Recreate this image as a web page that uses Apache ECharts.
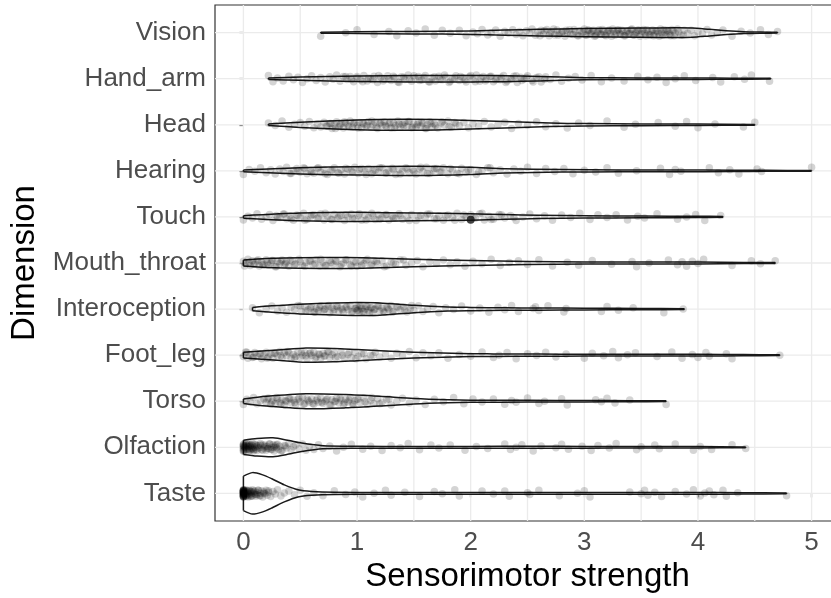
<!DOCTYPE html>
<html><head><meta charset="utf-8">
<script src="https://cdn.jsdelivr.net/npm/echarts@6/dist/echarts.min.js"></script>
<style>html,body{margin:0;padding:0;background:#fff}#c{width:831px;height:598px}</style>
</head><body><div id="c"></div>
<script>
// Categories bottom (index 0) to top
const categories = ['Taste','Olfaction','Torso','Foot_leg','Interoception','Mouth_throat','Touch','Hearing','Head','Hand_arm','Vision'];
const xTicks = [0,1,2,3,4,5];
const xMinorGrid = [0.5,1.5,2.5,3.5,4.5];

// vertical jitter offsets (category units)
const jitter = [0.05,-0.065,0.015,-0.025,0.07,-0.05,0.0,0.055,-0.08,0.03,-0.01,0.065,-0.04,0.025,-0.07,0.04,-0.015,0.08,-0.055,0.01,0.05,-0.03,0.07,-0.065,0.015,-0.05,0.055,-0.025,0.03,-0.08,0.0,0.065,-0.04,0.025,-0.07,0.04,-0.01,0.08,-0.055,0.05,-0.015];

// Sensorimotor strength of individual words, per dimension
const visionVals = [0.68,0.9,1.0,1.15,1.28,1.35,1.45,1.52,1.6,1.68,1.75,1.82,1.9,1.96,2.02,2.06,2.1,2.15,2.18,2.22,2.26,2.3,2.33,2.37,2.4,2.43,2.46,2.49,2.52,2.54,2.57,2.59,2.62,2.64,2.67,2.69,2.71,2.74,2.76,2.78,2.81,2.83,2.85,2.87,2.9,2.92,2.94,2.96,2.98,3.0,3.02,3.04,3.06,3.08,3.1,3.12,3.14,3.16,3.18,3.2,3.22,3.24,3.26,3.28,3.3,3.32,3.34,3.36,3.38,3.4,3.42,3.44,3.46,3.48,3.5,3.52,3.54,3.56,3.58,3.6,3.62,3.64,3.66,3.68,3.7,3.72,3.74,3.76,3.78,3.8,3.82,3.85,3.88,3.91,3.94,3.97,4.0,4.04,4.08,4.12,4.17,4.22,4.3,4.38,4.46,4.55,4.62,4.7];
const visionMore = [2.61,2.65,2.7,2.73,2.77,2.8,2.84,2.88,2.91,2.95,2.99,3.01,3.03,3.05,3.07,3.09,3.11,3.13,3.15,3.17,3.19,3.21,3.23,3.25,3.27,3.29,3.31,3.33,3.35,3.37,3.39,3.41,3.43,3.45,3.47,3.49,3.51,3.53,3.55,3.57,3.59,3.61,3.63,3.65,3.67,3.69,3.71,3.73,3.75,3.77,3.79,3.83,3.87];
const handArmVals = [0.22,0.26,0.3,0.35,0.4,0.44,0.48,0.52,0.56,0.6,0.64,0.68,0.72,0.76,0.79,0.82,0.85,0.88,0.91,0.94,0.97,1.0,1.03,1.06,1.09,1.12,1.15,1.18,1.21,1.24,1.27,1.3,1.33,1.36,1.39,1.42,1.45,1.48,1.51,1.54,1.57,1.6,1.63,1.66,1.69,1.72,1.75,1.78,1.81,1.84,1.87,1.9,1.93,1.96,1.99,2.02,2.05,2.08,2.11,2.14,2.17,2.2,2.23,2.26,2.29,2.32,2.35,2.38,2.41,2.44,2.47,2.5,2.54,2.58,2.62,2.66,2.7,2.75,2.8,2.86,2.92,2.98,3.06,3.15,3.24,3.35,3.47,3.56,3.64,3.72,3.8,3.88,3.98,4.13,4.2,4.32,4.41,4.47,4.63];
const handArmMore = [0.9,0.95,1.0,1.05,1.1,1.14,1.19,1.23,1.28,1.32,1.37,1.41,1.46,1.5,1.55,1.59,1.64,1.68,1.73,1.77,1.82,1.86,1.91,1.95,2.0,2.04,2.09,2.13,2.18,2.22,2.27,2.31,2.36,2.4,2.45,2.49,2.55,2.6,2.65];
const headVals = [0.22,0.28,0.34,0.4,0.45,0.5,0.54,0.58,0.62,0.65,0.68,0.71,0.74,0.76,0.78,0.8,0.82,0.84,0.86,0.88,0.9,0.92,0.94,0.96,0.98,1.0,1.02,1.04,1.06,1.08,1.1,1.12,1.14,1.16,1.18,1.2,1.22,1.24,1.26,1.28,1.3,1.32,1.34,1.36,1.38,1.4,1.42,1.44,1.46,1.48,1.5,1.52,1.54,1.56,1.58,1.6,1.62,1.64,1.66,1.68,1.71,1.74,1.77,1.8,1.83,1.86,1.9,1.94,1.98,2.02,2.07,2.12,2.18,2.24,2.3,2.36,2.42,2.5,2.58,2.66,2.75,2.85,2.95,3.05,3.2,3.35,3.45,3.65,3.8,3.9,4.0,4.15,4.4,4.5];
const headMore = [0.73,0.77,0.81,0.85,0.89,0.93,0.97,1.01,1.05,1.09,1.13,1.17,1.21,1.25,1.29,1.33,1.37,1.41,1.45,1.49,1.53,1.57,1.61,1.65,1.69,1.75,1.81,1.87];
const hearingVals = [0.0,0.05,0.1,0.15,0.2,0.24,0.28,0.32,0.35,0.38,0.41,0.44,0.47,0.5,0.53,0.56,0.59,0.62,0.65,0.68,0.71,0.74,0.77,0.8,0.83,0.86,0.89,0.92,0.95,0.98,1.01,1.04,1.07,1.1,1.13,1.16,1.19,1.22,1.25,1.28,1.31,1.34,1.37,1.4,1.43,1.46,1.49,1.52,1.55,1.58,1.61,1.64,1.67,1.7,1.73,1.76,1.8,1.84,1.88,1.92,1.96,2.0,2.05,2.1,2.15,2.2,2.26,2.32,2.38,2.44,2.5,2.58,2.66,2.74,2.82,2.9,3.0,3.1,3.2,3.3,3.46,3.67,3.75,3.8,3.85,4.1,4.18,4.28,4.36,4.52,4.56,5.0];
const hearingMore = [0.42,0.48,0.54,0.6,0.66,0.72,0.78,0.84,0.9,0.96,1.02,1.08,1.14,1.2,1.26,1.32,1.38,1.44,1.5,1.56,1.62,1.68,1.74,1.82,1.9,1.98,2.07,2.17];
const touchVals = [0.0,0.04,0.08,0.12,0.16,0.2,0.23,0.26,0.29,0.32,0.35,0.38,0.41,0.44,0.47,0.5,0.53,0.56,0.59,0.62,0.65,0.68,0.71,0.74,0.77,0.8,0.83,0.86,0.89,0.92,0.95,0.98,1.01,1.04,1.07,1.1,1.13,1.16,1.19,1.22,1.25,1.28,1.31,1.34,1.37,1.4,1.44,1.48,1.52,1.56,1.6,1.64,1.68,1.72,1.76,1.8,1.84,1.88,1.92,1.96,2.0,2.04,2.08,2.12,2.16,2.2,2.25,2.3,2.35,2.4,2.46,2.52,2.58,2.65,2.72,2.8,2.88,2.96,3.05,3.12,3.2,3.28,3.38,3.47,3.53,3.64,3.82,3.9,3.98,4.06,4.2];
const touchMore = [0.3,0.36,0.42,0.48,0.54,0.6,0.66,0.72,0.78,0.84,0.9,0.96,1.02,1.08,1.14,1.2,1.26,1.32,1.38,1.46,1.54,1.62,1.7,1.78,1.86,1.94,2.02,2.1,2.18,2.27,2.38];
const mouthThroatVals = [0.0,0.02,0.04,0.06,0.08,0.1,0.12,0.14,0.16,0.18,0.2,0.22,0.24,0.26,0.28,0.3,0.32,0.34,0.36,0.38,0.4,0.43,0.46,0.49,0.52,0.55,0.58,0.61,0.64,0.67,0.7,0.73,0.76,0.79,0.82,0.85,0.88,0.91,0.94,0.97,1.0,1.03,1.06,1.09,1.12,1.15,1.18,1.22,1.26,1.3,1.34,1.38,1.43,1.48,1.53,1.58,1.64,1.7,1.76,1.82,1.88,1.95,2.02,2.1,2.18,2.26,2.34,2.42,2.5,2.6,2.72,2.85,2.95,3.07,3.24,3.42,3.46,3.57,3.74,3.82,3.86,3.9,3.95,4.0,4.05,4.3,4.47,4.55,4.68];
const mouthThroatMore = [0.01,0.05,0.09,0.13,0.17,0.21,0.25,0.29,0.33,0.37,0.41,0.45,0.5,0.54,0.59,0.63,0.68,0.72,0.77,0.81,0.86,0.9,0.95,0.99,1.04,1.08,1.13,1.17,1.24,1.32,1.41];
const interoceptionVals = [0.08,0.14,0.2,0.25,0.3,0.34,0.38,0.42,0.45,0.48,0.51,0.54,0.57,0.6,0.62,0.64,0.66,0.68,0.7,0.72,0.74,0.76,0.78,0.8,0.82,0.84,0.86,0.88,0.9,0.92,0.94,0.96,0.98,1.0,1.0,1.02,1.02,1.04,1.06,1.08,1.1,1.12,1.14,1.16,1.18,1.2,1.22,1.24,1.26,1.28,1.3,1.32,1.35,1.38,1.41,1.44,1.47,1.5,1.54,1.58,1.62,1.67,1.72,1.78,1.85,1.92,2.0,2.08,2.16,2.24,2.3,2.36,2.42,2.55,2.57,2.6,2.68,2.82,2.84,3.15,3.2,3.3,3.43,3.7,3.87];
const interoceptionMore = [0.5,0.55,0.59,0.63,0.67,0.71,0.75,0.79,0.83,0.87,0.91,0.95,0.99,1.01,1.03,1.05,1.07,1.09,1.11,1.13,1.15,1.19,1.23,1.27,1.31,1.36,1.42,1.48];
const footLegVals = [0.0,0.02,0.04,0.06,0.08,0.1,0.12,0.14,0.16,0.18,0.2,0.22,0.24,0.26,0.28,0.3,0.32,0.34,0.36,0.38,0.4,0.42,0.44,0.46,0.48,0.5,0.52,0.54,0.56,0.58,0.6,0.62,0.64,0.66,0.68,0.7,0.72,0.74,0.76,0.78,0.8,0.83,0.86,0.89,0.92,0.95,0.98,1.01,1.04,1.08,1.12,1.16,1.2,1.25,1.3,1.35,1.4,1.46,1.52,1.58,1.65,1.72,1.8,1.9,2.0,2.1,2.2,2.25,2.32,2.4,2.5,2.58,2.66,2.75,2.84,3.0,3.07,3.17,3.25,3.3,3.38,3.45,3.64,3.77,3.86,3.95,4.0,4.07,4.1,4.25,4.3,4.72];
const footLegMore = [0.03,0.09,0.15,0.21,0.27,0.33,0.39,0.45,0.51,0.55,0.59,0.63,0.67,0.71,0.75,0.81,0.87,0.93,0.99,1.06,1.14];
const torsoVals = [0.0,0.03,0.06,0.09,0.12,0.15,0.18,0.2,0.22,0.24,0.26,0.28,0.3,0.32,0.34,0.36,0.38,0.4,0.42,0.44,0.46,0.48,0.5,0.52,0.54,0.56,0.58,0.6,0.62,0.64,0.66,0.68,0.7,0.72,0.74,0.76,0.78,0.8,0.82,0.84,0.86,0.88,0.9,0.92,0.94,0.96,0.98,1.0,1.03,1.06,1.09,1.12,1.15,1.18,1.22,1.26,1.3,1.35,1.4,1.46,1.52,1.6,1.68,1.76,1.85,1.94,2.02,2.1,2.2,2.3,2.36,2.4,2.5,2.6,2.65,2.8,2.85,3.1,3.15,3.2,3.27,3.4,3.72];
const torsoMore = [0.21,0.25,0.29,0.33,0.37,0.41,0.45,0.49,0.53,0.57,0.61,0.65,0.69,0.73,0.77,0.81,0.85,0.89,0.93,0.97,1.01,1.07,1.13,1.2,1.28];
const olfactionVals = [0.0,0.0,0.0,0.0,0.0,0.0,0.01,0.01,0.02,0.02,0.03,0.03,0.04,0.04,0.05,0.05,0.06,0.06,0.07,0.07,0.08,0.08,0.09,0.1,0.1,0.11,0.12,0.12,0.13,0.14,0.15,0.16,0.17,0.18,0.19,0.2,0.21,0.22,0.23,0.24,0.25,0.26,0.27,0.28,0.29,0.3,0.31,0.32,0.34,0.36,0.38,0.4,0.42,0.44,0.46,0.49,0.52,0.55,0.58,0.62,0.66,0.7,0.76,0.82,0.88,0.95,1.05,1.12,1.22,1.3,1.38,1.45,1.55,1.65,1.72,1.82,1.95,2.05,2.15,2.3,2.35,2.4,2.45,2.55,2.62,2.75,2.8,2.86,2.98,3.06,3.12,3.22,3.28,3.46,3.5,3.62,3.66,3.8,3.96,4.02,4.12,4.3,4.42];
const olfactionMore = [0.0,0.0,0.01,0.02,0.03,0.04,0.05,0.06,0.07,0.08,0.09,0.11,0.13,0.15,0.17,0.19,0.21,0.23,0.25,0.27,0.29,0.33,0.37];
const tasteVals = [0.0,0.0,0.0,0.0,0.0,0.0,0.0,0.0,0.0,0.0,0.0,0.0,0.0,0.0,0.0,0.0,0.0,0.0,0.0,0.0,0.01,0.01,0.01,0.02,0.02,0.02,0.03,0.03,0.03,0.04,0.04,0.05,0.05,0.06,0.06,0.07,0.07,0.08,0.08,0.09,0.1,0.1,0.11,0.12,0.12,0.13,0.14,0.15,0.16,0.17,0.18,0.19,0.2,0.21,0.22,0.24,0.26,0.28,0.3,0.33,0.36,0.4,0.45,0.5,0.56,0.62,0.7,0.8,0.9,0.98,1.05,1.15,1.25,1.3,1.42,1.55,1.68,1.75,1.86,1.9,2.1,2.2,2.3,2.34,2.5,2.52,2.6,2.78,2.94,3.0,3.05,3.4,3.5,3.53,3.56,3.62,3.68,3.8,3.9,3.96,4.02,4.06,4.1,4.14,4.22,4.25,4.35,4.78];
const tasteMore = [0.0,0.0,0.0,0.0,0.0,0.0,0.0,0.0,0.0,0.0,0.01,0.02,0.03,0.04,0.05,0.06,0.07,0.09,0.11,0.13,0.15,0.18,0.22];

// highlighted word
const highlightX = [2.0];
const highlightCat = ['Touch'];

// kernel density estimates: [strength, relative density]
const visionDens = [[0.68,0.5],[1.0,0.9],[1.5,1.3],[2.0,1.8],[2.3,2.6],[2.6,3.4],[3.0,4.2],[3.5,4.7],[3.8,5.0],[3.95,4.8],[4.1,3.4],[4.25,2.0],[4.4,1.0],[4.55,0.6],[4.7,0.4]];
const handArmDens = [[0.22,0.8],[0.5,1.7],[1.0,2.9],[1.5,3.3],[2.0,3.3],[2.3,3.0],[2.6,2.3],[3.0,1.1],[3.5,0.8],[4.0,0.7],[4.3,0.6],[4.64,0.4]];
const headDens = [[0.22,0.8],[0.5,2.7],[1.0,5.0],[1.4,5.7],[1.7,5.4],[2.0,4.3],[2.3,3.3],[2.7,1.8],[3.0,1.2],[3.5,0.9],[4.0,0.7],[4.5,0.4]];
const hearingDens = [[0.0,0.9],[0.5,3.3],[1.0,4.3],[1.5,4.8],[2.0,3.7],[2.3,2.2],[2.8,1.3],[3.3,1.0],[3.8,0.9],[4.3,0.7],[4.6,0.5],[5.0,0.3]];
const touchDens = [[0.0,1.3],[0.5,4.0],[1.0,4.7],[1.5,4.0],[2.0,3.3],[2.3,2.4],[2.6,1.7],[3.0,1.2],[3.5,0.9],[4.0,0.7],[4.22,0.4]];
const mouthThroatDens = [[0.0,3.0],[0.2,4.5],[0.5,5.5],[0.9,5.6],[1.2,5.0],[1.5,3.9],[2.0,2.5],[2.5,1.5],[3.0,1.1],[3.5,1.0],[4.0,0.9],[4.4,0.6],[4.68,0.4]];
const interoceptionDens = [[0.08,1.7],[0.25,3.3],[0.5,5.0],[0.8,6.2],[1.0,6.7],[1.2,6.3],[1.5,3.8],[1.8,2.1],[2.0,1.7],[2.3,1.3],[2.6,1.1],[3.0,0.9],[3.5,0.7],[3.88,0.4]];
const footLegDens = [[0.0,3.0],[0.3,5.2],[0.55,7.3],[0.8,6.8],[1.0,5.7],[1.5,3.0],[2.0,1.4],[2.2,1.3],[2.6,1.1],[3.0,1.0],[3.5,0.9],[4.0,0.9],[4.4,0.6],[4.72,0.4]];
const torsoDens = [[0.0,2.3],[0.2,5.0],[0.55,7.7],[0.9,6.8],[1.2,5.0],[1.5,2.8],[1.8,1.5],[2.0,1.1],[2.5,0.9],[3.0,0.7],[3.4,0.6],[3.72,0.4]];
const olfactionDens = [[0.0,7.3],[0.12,9.0],[0.26,9.7],[0.4,7.0],[0.5,4.6],[0.7,1.6],[1.0,1.0],[1.5,0.9],[2.0,0.9],[2.5,1.0],[3.0,0.9],[3.5,0.8],[4.0,0.7],[4.42,0.4]];
const tasteDens = [[0.0,17.7],[0.08,21.3],[0.17,19.0],[0.25,15.0],[0.36,8.7],[0.48,3.7],[0.6,2.0],[0.8,1.1],[1.2,0.9],[2.0,0.8],[3.0,0.8],[4.0,0.9],[4.4,0.7],[4.78,0.4]];

const values = {
  Vision: visionVals.concat(visionMore), Hand_arm: handArmVals.concat(handArmMore), Head: headVals.concat(headMore),
  Hearing: hearingVals.concat(hearingMore), Touch: touchVals.concat(touchMore), Mouth_throat: mouthThroatVals.concat(mouthThroatMore),
  Interoception: interoceptionVals.concat(interoceptionMore), Foot_leg: footLegVals.concat(footLegMore), Torso: torsoVals.concat(torsoMore),
  Olfaction: olfactionVals.concat(olfactionMore), Taste: tasteVals.concat(tasteMore)
};
const dens = {Vision:visionDens, Hand_arm:handArmDens, Head:headDens, Hearing:hearingDens, Touch:touchDens, Mouth_throat:mouthThroatDens, Interoception:interoceptionDens, Foot_leg:footLegDens, Torso:torsoDens, Olfaction:olfactionDens, Taste:tasteDens};

let maxD = 0;
categories.forEach(c => dens[c].forEach(p => { if (p[1] > maxD) maxD = p[1]; }));
const halfWidth = 0.45; // violin width 0.9 of category spacing
const k = halfWidth / maxD;

const scatterData = [];
categories.forEach((c, ci) => {
  values[c].forEach((v, j) => {
    scatterData.push([v, ci + jitter[(j + ci * 7) % jitter.length]]);
  });
});
const highlightData = highlightX.map((v, i) => [v, categories.indexOf(highlightCat[i]) - 0.06]);

// grid lines: [orientation (0 vertical, 1 horizontal), axis value]
const gridData = [];
xTicks.forEach(v => gridData.push([0, v, 2]));
xMinorGrid.forEach(v => gridData.push([0, v, 2]));
categories.forEach((c, i) => gridData.push([1, i, 2]));

const FONT = 'Liberation Sans, Arial, Helvetica, sans-serif';
const OUTLINE = '#1a1a1a';
const chart = echarts.init(document.getElementById('c'), null, {renderer: 'canvas'});
chart.setOption({
  backgroundColor: '#fff',
  animation: false,
  grid: {left: 215, width: 625, top: 5, bottom: 77, outerBoundsMode: 'none', containLabel: false,
    show: true, borderColor: '#333', borderWidth: 1.2, backgroundColor: 'transparent'},
  xAxis: {
    type: 'value', min: -0.25, max: 5.25,
    name: 'Sensorimotor strength', nameLocation: 'middle', nameGap: 37,
    nameTextStyle: {fontFamily: FONT, fontSize: 33, color: '#000'},
    axisLine: {show: false},
    axisTick: {show: true, length: 4, lineStyle: {color: '#333', width: 1.2}, customValues: xTicks},
    axisLabel: {customValues: xTicks, fontFamily: FONT, fontSize: 26, color: '#4D4D4D', margin: 9},
    splitLine: {show: false}
  },
  yAxis: {
    type: 'value', min: -0.6, max: 10.6,
    name: 'Dimension', nameLocation: 'middle', nameGap: 174, nameRotate: 90,
    nameTextStyle: {fontFamily: FONT, fontSize: 33, color: '#000'},
    axisLine: {show: false},
    axisTick: {show: true, length: 4, lineStyle: {color: '#333', width: 1.2}, customValues: categories.map((c, i) => i)},
    axisLabel: {customValues: categories.map((c, i) => i), fontFamily: FONT, fontSize: 26, color: '#4D4D4D', margin: 9,
      formatter: v => categories[Math.round(v)] || ''},
    splitLine: {show: false}
  },
  series: [
    {
      type: 'custom', z: 1, silent: true, data: gridData,
      encode: {x: 2, y: 2},
      renderItem: function (params, api) {
        const cs = params.coordSys;
        const kind = api.value(0), v = api.value(1);
        if (kind === 0) {
          const p = api.coord([v, 0]);
          return {type: 'line', shape: {x1: p[0], y1: cs.y, x2: p[0], y2: cs.y + cs.height},
            style: {stroke: '#EBEBEB', lineWidth: 1.3}};
        }
        const p = api.coord([0, v]);
        return {type: 'line', shape: {x1: cs.x, y1: p[1], x2: cs.x + cs.width, y2: p[1]},
          style: {stroke: '#EBEBEB', lineWidth: 1.3}};
      }
    },
    {
      type: 'custom', z: 2, silent: true,
      data: categories.map((c, i) => [i, i]),
      encode: {x: 0, y: 1},
      renderItem: function (params, api) {
        const ci = api.value(1);
        const prof = dens[categories[ci]];
        const up = [], lo = [];
        prof.forEach(p => {
          up.push(api.coord([p[0], ci + p[1] * k]));
          lo.push(api.coord([p[0], ci - p[1] * k]));
        });
        const n = up.length;
        const fillPts = up.concat(lo.slice().reverse());
        return {type: 'group', children: [
          {type: 'polygon', shape: {points: fillPts}, style: {fill: '#fff', stroke: null}},
          {type: 'polyline', shape: {points: up, smooth: 0.25}, style: {fill: null, stroke: OUTLINE, lineWidth: 1.5}},
          {type: 'polyline', shape: {points: lo, smooth: 0.25}, style: {fill: null, stroke: OUTLINE, lineWidth: 1.5}},
          {type: 'line', shape: {x1: up[0][0], y1: up[0][1], x2: lo[0][0], y2: lo[0][1]}, style: {stroke: OUTLINE, lineWidth: 1.5}},
          {type: 'line', shape: {x1: up[n - 1][0], y1: up[n - 1][1], x2: lo[n - 1][0], y2: lo[n - 1][1]}, style: {stroke: OUTLINE, lineWidth: 1.5}}
        ]};
      }
    },
    {
      type: 'scatter', z: 3, silent: true, data: scatterData, large: false,
      symbol: 'circle', symbolSize: 7.5,
      itemStyle: {color: 'rgba(0,0,0,0.21)', borderWidth: 0}
    },
    {
      type: 'scatter', z: 4, silent: true, data: highlightData,
      symbol: 'circle', symbolSize: 8,
      itemStyle: {color: '#111', borderWidth: 0}
    }
  ]
});
</script>
</body></html>
